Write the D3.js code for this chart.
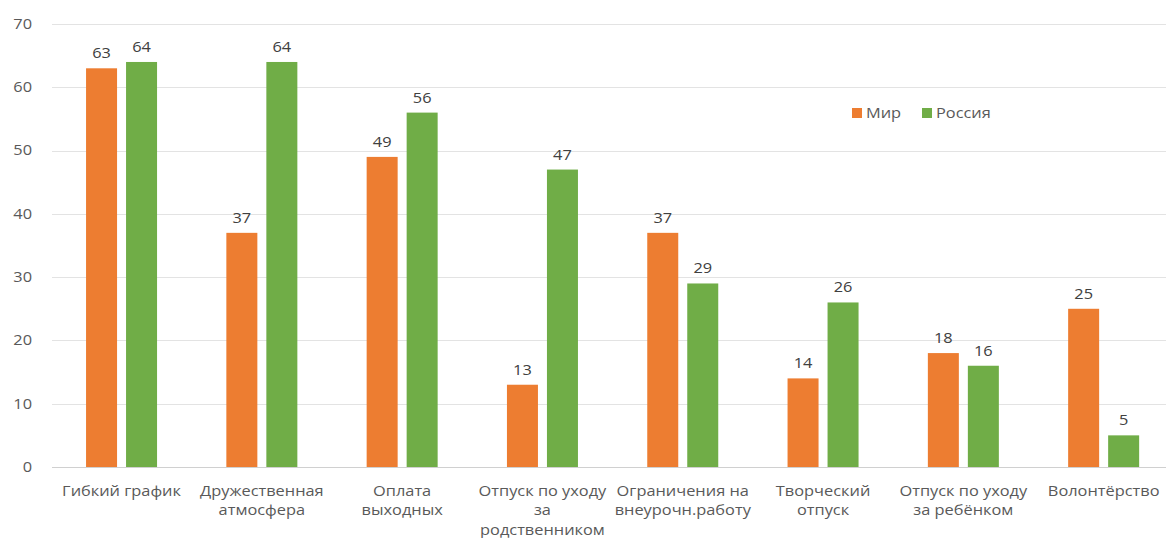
<!DOCTYPE html>
<html lang="ru">
<head>
<meta charset="utf-8">
<script src="https://cdn.jsdelivr.net/npm/d3@7"></script>
<style>
  html, body { margin: 0; padding: 0; background: #fff; }
  svg { display: block; font-family: "Open Sans", "DejaVu Sans", sans-serif; }
</style>
</head>
<body>
<svg id="chart" width="1166" height="538"></svg>
<script>
// Категории (подписи оси X, строки разделены \n)
const categories = [
  "Гибкий график",
  "Дружественная\nатмосфера",
  "Оплата\nвыходных",
  "Отпуск по уходу\nза\nродственником",
  "Ограничения на\nвнеурочн.работу",
  "Творческий\nотпуск",
  "Отпуск по уходу\nза ребёнком",
  "Волонтёрство"
];
const seriesNames = ["Мир", "Россия"];
const valuesWorld = [63, 37, 49, 13, 37, 14, 18, 25];
const valuesRussia = [64, 64, 56, 47, 29, 26, 16, 5];
const yTicks = [0, 10, 20, 30, 40, 50, 60, 70];
const colors = ["#ED7D31", "#70AD47"];

const rows = categories.map((c, i) => ({ cat: c, vals: [valuesWorld[i], valuesRussia[i]] }));

const svg = d3.select("#chart");
const W = 1166;
const SX = 1.17; // горизонтальное растяжение шрифта

const x = d3.scaleBand().domain(categories).range([51.4, 1173.8]).padding(0);
const x1 = d3.scaleBand().domain(seriesNames).paddingInner(0.225).paddingOuter(0).range([0, 71]);
const y = d3.scaleLinear().domain([0, 70]).range([467, 24]);

// Текст с растяжением по горизонтали
function stretched(sel, px, py) {
  return sel.attr("transform", (d, i, n) => `translate(${px(d, i, n)},${py(d, i, n)}) scale(${SX},1)`);
}

// Горизонтальная сетка
svg.append("g")
  .selectAll("line")
  .data(yTicks)
  .join("line")
  .attr("x1", 52).attr("x2", W)
  .attr("y1", d => Math.round(y(d)) + 0.5)
  .attr("y2", d => Math.round(y(d)) + 0.5)
  .attr("stroke", d => d === 0 ? "#d0d0d0" : "#e3e3e3")
  .attr("stroke-width", 1);

// Подписи оси Y
svg.append("g")
  .selectAll("text")
  .data(yTicks)
  .join("text")
  .call(stretched, () => 32, d => y(d))
  .attr("dy", "0.35em")
  .attr("text-anchor", "end")
  .attr("font-size", 14)
  .attr("fill", "#595959")
  .text(d => d);

// Столбцы
const groups = svg.append("g")
  .selectAll("g")
  .data(rows)
  .join("g")
  .attr("transform", d => `translate(${x(d.cat) + x.bandwidth() / 2 - 35.5},0)`);

groups.selectAll("rect")
  .data(d => d.vals.map((v, j) => ({ name: seriesNames[j], v, j })))
  .join("rect")
  .attr("x", d => x1(d.name))
  .attr("width", x1.bandwidth())
  .attr("y", d => y(d.v))
  .attr("height", d => y(0) - y(d.v))
  .attr("fill", d => colors[d.j]);

// Значения над столбцами
groups.selectAll("text")
  .data(d => d.vals.map((v, j) => ({ name: seriesNames[j], v, j })))
  .join("text")
  .call(stretched, d => x1(d.name) + x1.bandwidth() / 2, d => y(d.v) - 10)
  .attr("text-anchor", "middle")
  .attr("font-size", 14)
  .attr("fill", "#404040")
  .text(d => d.v);

// Подписи категорий
const catLabels = svg.append("g")
  .selectAll("text")
  .data(categories)
  .join("text")
  .call(stretched, d => x(d) + x.bandwidth() / 2, () => 496)
  .attr("text-anchor", "middle")
  .attr("font-size", 14)
  .attr("fill", "#595959");

catLabels.selectAll("tspan")
  .data(d => d.split("\n"))
  .join("tspan")
  .attr("x", 0)
  .attr("dy", (d, i) => i === 0 ? 0 : 19.5)
  .text(d => d);

// Легенда
const legend = svg.append("g").attr("transform", "translate(852,108)");
const legendX = [0, 70];
seriesNames.forEach((name, i) => {
  const g = legend.append("g").attr("transform", `translate(${legendX[i]},0)`);
  g.append("rect").attr("width", 10).attr("height", 10).attr("fill", colors[i]);
  g.append("text")
    .attr("transform", `translate(14,5) scale(${SX},1)`)
    .attr("dy", "0.35em")
    .attr("font-size", 14).attr("fill", "#595959")
    .text(name);
});
</script>
</body>
</html>
